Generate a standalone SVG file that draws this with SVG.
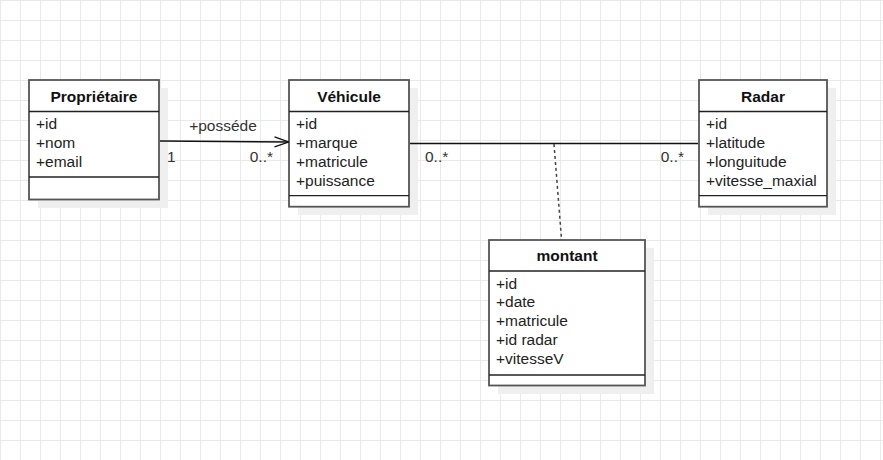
<svg xmlns="http://www.w3.org/2000/svg" width="883" height="460" viewBox="0 0 883 460">
<defs>
<pattern id="grid" x="0" y="0" width="20" height="20" patternUnits="userSpaceOnUse">
<rect x="0" y="0" width="1" height="20" fill="#e9e9e9"/>
<rect x="0" y="0" width="20" height="1" fill="#e9e9e9"/>
</pattern>
<marker id="open" markerWidth="16" markerHeight="12" refX="15" refY="6" orient="auto" markerUnits="userSpaceOnUse">
<path d="M1 1L15 6L1 11" fill="none" stroke="#111" stroke-width="1.3"/>
</marker>
</defs>
<style>
.shadow{fill:#efefef}
.box{fill:#fff;stroke:#555;stroke-width:1.8}
.sep{stroke:#222;stroke-width:1.3}
.title{font-family:"Liberation Sans",Arial,sans-serif;font-size:15.5px;font-weight:bold;fill:#111;text-anchor:middle}
.attr{font-family:"Liberation Sans",Arial,sans-serif;font-size:15.5px;fill:#222}
.lbl{font-family:"Liberation Sans",Arial,sans-serif;font-size:15.5px;fill:#333}
.conn{fill:none;stroke:#111;stroke-width:1.3}
.dash{fill:none;stroke:#444;stroke-width:1.5;stroke-dasharray:3 3}
</style>
<rect width="883" height="460" fill="#fff"/>
<rect width="883" height="460" fill="url(#grid)"/>

<g id="proprietaire">
<rect class="shadow" x="38" y="88" width="130" height="120"/>
<rect class="box" x="29" y="80" width="130" height="119.5"/>
<line class="sep" x1="29" y1="111.5" x2="159" y2="111.5"/>
<line class="sep" x1="29" y1="177" x2="159" y2="177"/>
<text class="title" x="94" y="101.5">Propriétaire</text>
<text class="attr" x="36" y="129">+id</text>
<text class="attr" x="36" y="148">+nom</text>
<text class="attr" x="36" y="166.8">+email</text>
</g>

<g id="vehicule">
<rect class="shadow" x="298" y="88" width="120" height="127"/>
<rect class="box" x="289" y="80" width="120" height="126.7"/>
<line class="sep" x1="289" y1="111.5" x2="409" y2="111.5"/>
<line class="sep" x1="289" y1="195.7" x2="409" y2="195.7"/>
<text class="title" x="349" y="101.5">Véhicule</text>
<text class="attr" x="296" y="129">+id</text>
<text class="attr" x="296" y="148">+marque</text>
<text class="attr" x="296" y="166.8">+matricule</text>
<text class="attr" x="296" y="185.6">+puissance</text>
</g>

<g id="radar">
<rect class="shadow" x="708" y="88" width="128" height="127"/>
<rect class="box" x="699" y="80" width="128" height="126.7"/>
<line class="sep" x1="699" y1="111.5" x2="827" y2="111.5"/>
<line class="sep" x1="699" y1="195.7" x2="827" y2="195.7"/>
<text class="title" x="763" y="101.5">Radar</text>
<text class="attr" x="706" y="129">+id</text>
<text class="attr" x="706" y="148">+latitude</text>
<text class="attr" x="706" y="166.8">+longuitude</text>
<text class="attr" x="706" y="185.6">+vitesse_maxial</text>
</g>

<g id="montant">
<rect class="shadow" x="498" y="248" width="156" height="146"/>
<rect class="box" x="489" y="240" width="156" height="145.5"/>
<line class="sep" x1="489" y1="271" x2="645" y2="271"/>
<line class="sep" x1="489" y1="375" x2="645" y2="375"/>
<text class="title" x="567" y="261">montant</text>
<text class="attr" x="496" y="288.5">+id</text>
<text class="attr" x="496" y="307.3">+date</text>
<text class="attr" x="496" y="326">+matricule</text>
<text class="attr" x="496" y="344.8">+id radar</text>
<text class="attr" x="496" y="363.6">+vitesseV</text>
</g>

<g id="connectors">
<path class="conn" d="M160 141L288.5 142" marker-end="url(#open)"/>
<path class="conn" d="M410 143.5H698"/>
<path class="dash" d="M554 144L561.5 239"/>
<text class="lbl" x="223" y="131" text-anchor="middle">+posséde</text>
<text class="lbl" x="167" y="162">1</text>
<text class="lbl" x="273" y="162" text-anchor="end">0..*</text>
<text class="lbl" x="425" y="162">0..*</text>
<text class="lbl" x="684" y="162" text-anchor="end">0..*</text>
</g>
</svg>
